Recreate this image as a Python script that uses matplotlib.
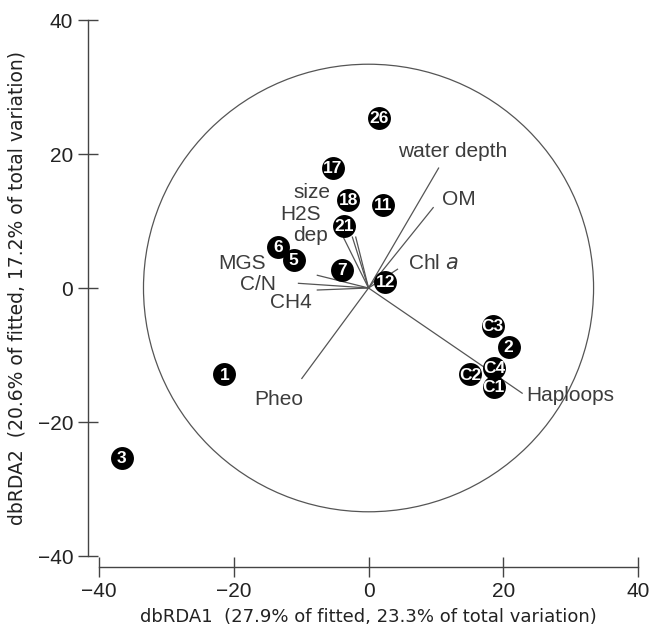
import numpy as np
import matplotlib.pyplot as plt
from matplotlib import font_manager
from matplotlib.patches import Circle

# site scores on dbRDA1 / dbRDA2
sites = ['26', '17', '18', '11', '21', '6', '5', '7', '12', '1', '3',
         'C3', '2', 'C4', 'C2', 'C1']
site_x = [1.5, -5.3, -3.0, 2.2, -3.6, -13.4, -11.1, -3.9, 2.5, -21.4, -36.6,
          18.4, 20.8, 18.6, 15.1, 18.6]
site_y = [25.4, 17.9, 13.2, 12.4, 9.3, 6.1, 4.2, 2.7, 0.9, -12.9, -25.3,
          -5.6, -8.8, -11.9, -12.9, -14.8]

# environmental vectors (end points)
vars_ = ['water depth', 'OM', 'Chl a', 'Haploops', 'Pheo', 'CH4', 'C/N', 'MGS',
         'size', 'H2S', 'dep']
vec_x = [10.4, 9.6, 4.3, 22.8, -9.9, -7.6, -10.4, -7.6, -3.7, -2.4, -1.9]
vec_y = [17.9, 12.0, 2.8, -15.7, -13.5, -0.3, 0.7, 1.9, 7.5, 7.6, 7.6]

# where the vector labels sit
lab_x = [4.4, 10.9, 5.9, 23.4, -16.9, -8.5, -13.8, -15.3, -5.6, -7.1, -6.1]
lab_y = [20.3, 13.2, 3.6, -16.0, -16.7, -2.2, 0.45, 3.7, 14.2, 10.9, 7.9]
lab_ha = ['left', 'left', 'left', 'left', 'left', 'right', 'right', 'right',
          'right', 'right', 'right']

circle_r = 33.4

# narrow bold face for the numbers inside the dots, if there is one
try:
    font_manager.findfont('Liberation Sans Narrow', fallback_to_default=False)
    num_font, num_size = 'Liberation Sans Narrow', 14
except ValueError:
    num_font, num_size = 'Liberation Sans', 12.5

grey = '#3c3c3c'
fig = plt.figure(figsize=(6.51, 6.35), dpi=100)
ax = fig.add_axes([0.1521, 0.1244, 0.8280, 0.8441])

ax.add_patch(Circle((0, 0), circle_r, fill=False, color='#555555', lw=0.9))

for i in range(len(vars_)):
    ax.plot([0, vec_x[i]], [0, vec_y[i]], color='#555555', lw=0.9, zorder=2)
    name = vars_[i]
    if name == 'Chl a':
        name = 'Chl $\\it{a}$'
    ax.text(lab_x[i], lab_y[i], name, ha=lab_ha[i], va='center',
            fontsize=15, color=grey, family='Liberation Sans')

ax.scatter(site_x, site_y, s=16.5 ** 2, color='black', zorder=3, lw=0)
for i in range(len(sites)):
    ax.text(site_x[i], site_y[i] - 0.1, sites[i], ha='center', va='center',
            color='white', fontsize=num_size, fontweight='bold',
            family=[num_font, 'DejaVu Sans'], zorder=4)

ax.set_xlim(-40, 40)
ax.set_ylim(-40, 40)
ax.set_xticks([-40, -20, 0, 20, 40])
ax.set_yticks([-40, -20, 0, 20, 40])
ax.set_xticklabels(['\u221240', '\u221220', '0', '20', '40'])
ax.set_yticklabels(['\u221240', '\u221220', '0', '20', '40'])
ax.spines['top'].set_visible(False)
ax.spines['right'].set_visible(False)
ax.spines['left'].set_position(('outward', 8))
ax.spines['bottom'].set_position(('outward', 8))
for s in ['left', 'bottom']:
    ax.spines[s].set_color('#444444')
    ax.spines[s].set_linewidth(1.0)
ax.tick_params(direction='inout', length=15, width=1.0, color='#444444',
               labelsize=15, labelcolor='#222222', pad=3)
for t in ax.get_xticklabels() + ax.get_yticklabels():
    t.set_family('Liberation Sans')

ax.set_xlabel('dbRDA1  (27.9% of fitted, 23.3% of total variation)',
              fontsize=13, color='#222222', labelpad=5)
ax.set_ylabel('dbRDA2  (20.6% of fitted, 17.2% of total variation)',
              fontsize=13.5, color='#222222', labelpad=8)

plt.savefig('out.png', dpi=100)
